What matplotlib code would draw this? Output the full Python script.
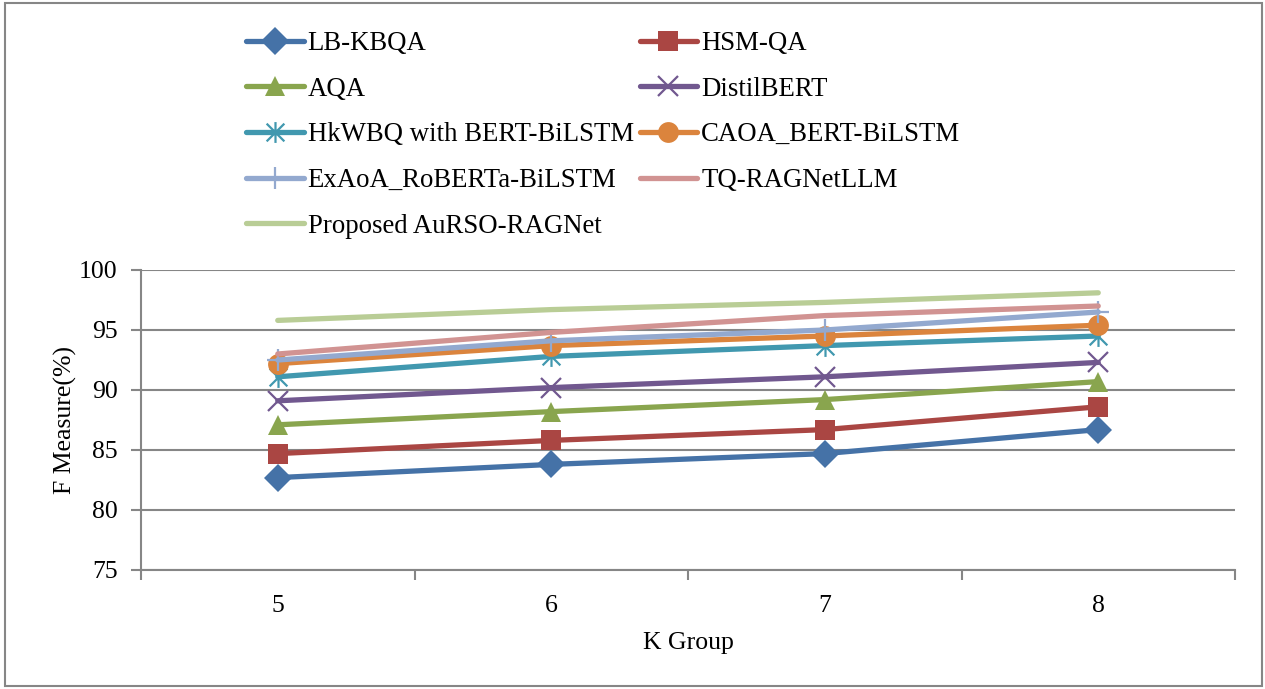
import matplotlib
matplotlib.use("Agg")
import matplotlib.pyplot as plt
from matplotlib.path import Path
from matplotlib.patches import Rectangle

# K group categories
k_groups = ["5", "6", "7", "8"]

# F-measure (%) per method
lb_kbqa = [82.7, 83.8, 84.7, 86.7]
hsm_qa = [84.7, 85.8, 86.7, 88.6]
aqa = [87.1, 88.2, 89.2, 90.7]
distilbert = [89.1, 90.2, 91.1, 92.3]
hkwbq = [91.1, 92.8, 93.7, 94.5]
caoa = [92.2, 93.7, 94.5, 95.4]
exaoa = [92.5, 94.1, 95.0, 96.5]
tq_ragnet = [93.0, 94.8, 96.2, 97.0]
proposed = [95.8, 96.7, 97.3, 98.1]

y_ticks = [75, 80, 85, 90, 95, 100]

plt.rcParams["font.family"] = ["Liberation Serif", "DejaVu Serif"]
FS = 18.5
LFS = 19.3

# Excel-style asterisk: vertical bar plus an X
asterisk = Path(
    [(0, -1), (0, 1), (-0.85, -0.85), (0.85, 0.85), (-0.85, 0.85), (0.85, -0.85)],
    [Path.MOVETO, Path.LINETO, Path.MOVETO, Path.LINETO, Path.MOVETO, Path.LINETO],
)

series = [
    ("LB-KBQA", lb_kbqa, "#4572A7", "D", 14, None),
    ("HSM-QA", hsm_qa, "#AA4643", "s", 14, None),
    ("AQA", aqa, "#89A54E", "^", 15, None),
    ("DistilBERT", distilbert, "#71588F", "x", 14, 1.6),
    ("HkWBQ with BERT-BiLSTM", hkwbq, "#4198AF", asterisk, 15, 1.6),
    ("CAOA_BERT-BiLSTM", caoa, "#DB843D", "o", 15, None),
    ("ExAoA_RoBERTa-BiLSTM", exaoa, "#93A9CF", "+", 16, 1.6),
    ("TQ-RAGNetLLM", tq_ragnet, "#D19392", None, 0, None),
    ("Proposed AuRSO-RAGNet", proposed, "#B9CD96", None, 0, None),
]

fig = plt.figure(figsize=(12.65, 6.89), dpi=100)
ax = fig.add_axes([141 / 1265, 1 - 570 / 689, (1235 - 141) / 1265, 300 / 689])

x = list(range(len(k_groups)))
for label, vals, color, marker, ms, mew in series:
    kw = dict(color=color, lw=3.8, solid_capstyle="round", label=label, zorder=3)
    if marker is not None:
        kw.update(marker=marker, markersize=ms, markerfacecolor=color,
                  markeredgecolor=color)
        kw.update(markeredgewidth=mew if mew is not None else 0)
    ax.plot(x, vals, **kw)

grid_col = "#868686"
ax.set_xlim(-0.5, len(k_groups) - 0.5)
ax.set_ylim(75, 100)
ax.set_yticks(y_ticks)
ax.set_yticklabels([str(v) for v in y_ticks], fontsize=FS)
ax.set_xticks(x)
ax.set_xticklabels(k_groups, fontsize=FS)
ax.set_xticks([i - 0.5 for i in range(len(k_groups) + 1)], minor=True)
ax.tick_params(axis="x", which="major", length=0, pad=18)
ax.tick_params(axis="x", which="minor", length=7, width=1.5, color=grid_col,
               direction="out")
ax.tick_params(axis="y", length=7, width=1.5, color=grid_col, pad=10,
               direction="out")
ax.grid(axis="y", color=grid_col, lw=1.5, zorder=0)
ax.set_axisbelow(True)
for s in ["top", "right"]:
    ax.spines[s].set_visible(False)
for s in ["left", "bottom"]:
    ax.spines[s].set_color(grid_col)
    ax.spines[s].set_linewidth(1.5)

ax.set_xlabel("K Group", fontsize=FS, labelpad=11)
ax.set_ylabel("F Measure(%)", fontsize=FS, labelpad=1)

# Legend filled row by row across two columns
handles, labels = ax.get_legend_handles_labels()
order = list(range(0, len(handles), 2)) + list(range(1, len(handles), 2))
fig.legend([handles[i] for i in order], [labels[i] for i in order], ncol=2,
           loc="upper left", bbox_to_anchor=(246 / 1265, 1 - 31 / 689),
           frameon=False, fontsize=LFS, handlelength=2.15, handletextpad=0.15,
           columnspacing=0.22, labelspacing=0.77, borderpad=0,
           borderaxespad=0)

# Outer chart border
fig.patches.append(Rectangle((5 / 1265, 3 / 689), 1257 / 1265, 683 / 689,
                             transform=fig.transFigure, fill=False,
                             edgecolor="#868686", lw=1.5))

fig.savefig("out.png", dpi=100)
